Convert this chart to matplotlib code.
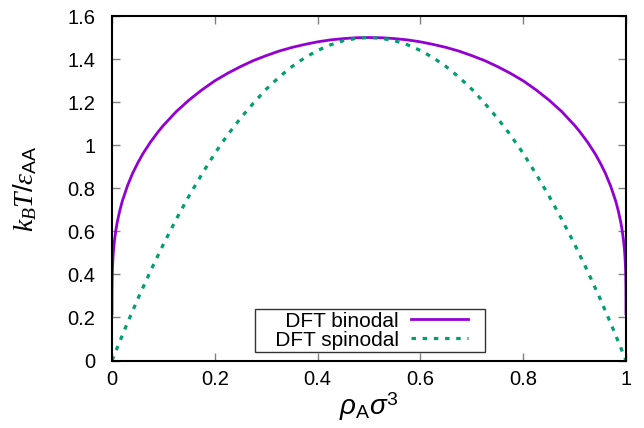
import numpy as np
import matplotlib
matplotlib.use("Agg")
import matplotlib.pyplot as plt
from matplotlib.ticker import FuncFormatter
from matplotlib.legend_handler import HandlerLine2D

# values
binodal_x = [0.000001, 0.00001, 0.0001, 0.0005, 0.001, 0.002, 0.003, 0.005, 0.0075, 0.01,
             0.015, 0.02, 0.03, 0.04, 0.05, 0.06, 0.075, 0.09, 0.1, 0.125,
             0.15, 0.175, 0.2, 0.225, 0.25, 0.275, 0.3, 0.325, 0.35, 0.375,
             0.4, 0.425, 0.45, 0.475, 0.5,
             0.525, 0.55, 0.575, 0.6, 0.625, 0.65, 0.675, 0.7, 0.725, 0.75,
             0.775, 0.8, 0.825, 0.85, 0.875, 0.9, 0.91, 0.925, 0.94, 0.95,
             0.96, 0.97, 0.98, 0.985, 0.99, 0.9925, 0.995, 0.997, 0.998, 0.999,
             0.9995, 0.9999, 0.99999, 0.999999]
binodal_t = [0.217, 0.261, 0.326, 0.394, 0.434, 0.481, 0.514, 0.561, 0.605, 0.640,
             0.695, 0.740, 0.811, 0.869, 0.917, 0.960, 1.015, 1.063, 1.092, 1.156,
             1.210, 1.257, 1.299, 1.334, 1.365, 1.393, 1.416, 1.437, 1.454, 1.468,
             1.480, 1.489, 1.495, 1.499, 1.500,
             1.499, 1.495, 1.489, 1.480, 1.468, 1.454, 1.437, 1.416, 1.393, 1.365,
             1.334, 1.299, 1.257, 1.210, 1.156, 1.092, 1.063, 1.015, 0.960, 0.917,
             0.869, 0.811, 0.740, 0.695, 0.640, 0.605, 0.561, 0.514, 0.481, 0.434,
             0.394, 0.326, 0.261, 0.217]

spinodal_x = [0.0, 0.025, 0.05, 0.075, 0.1, 0.125, 0.15, 0.175, 0.2, 0.225, 0.25, 0.275,
              0.3, 0.325, 0.35, 0.375, 0.4, 0.425, 0.45, 0.475, 0.5,
              0.525, 0.55, 0.575, 0.6, 0.625, 0.65, 0.675, 0.7, 0.725, 0.75,
              0.775, 0.8, 0.825, 0.85, 0.875, 0.9, 0.925, 0.95, 0.975, 1.0]
spinodal_t = [0.0, 0.146, 0.285, 0.416, 0.540, 0.656, 0.765, 0.866, 0.962, 1.048, 1.125, 1.195,
              1.260, 1.316, 1.365, 1.406, 1.440, 1.466, 1.485, 1.496, 1.500,
              1.496, 1.485, 1.466, 1.440, 1.406, 1.365, 1.316, 1.260, 1.195, 1.125,
              1.048, 0.962, 0.866, 0.765, 0.656, 0.540, 0.416, 0.285, 0.146, 0.0]


class ShortLine(HandlerLine2D):
    # gnuplot leaves a gap between the sample line and the key box
    def create_artists(self, legend, orig_handle, xdescent, ydescent, width, height,
                       fontsize, trans):
        return super().create_artists(legend, orig_handle, xdescent, ydescent,
                                      width * 0.8, height, fontsize, trans)


plt.rcParams["font.family"] = ["Liberation Sans", "DejaVu Sans"]
plt.rcParams["mathtext.fontset"] = "custom"
plt.rcParams["mathtext.rm"] = "Liberation Sans"
plt.rcParams["mathtext.it"] = "Liberation Serif:italic"
plt.rcParams["mathtext.sf"] = "Liberation Sans:italic"

fig = plt.figure(figsize=(6.44, 4.28), dpi=100)
ax = fig.add_axes([112 / 644, 1 - 360.5 / 428, (626 - 112) / 644, (360.5 - 16) / 428])

ax.plot(binodal_x, binodal_t, color="#9400d3", lw=2.0, label="   DFT binodal")
ax.plot(spinodal_x, spinodal_t, color="#009e73", lw=2.3, dashes=(1.4, 2.1),
        label="   DFT spinodal")

ax.set_xlim(0, 1)
ax.set_ylim(0, 1.6)
ax.set_xticks(np.arange(0, 1.01, 0.2))
ax.set_yticks(np.arange(0, 1.61, 0.2))
fmt = FuncFormatter(lambda v, p: "%g" % round(v, 2))
ax.xaxis.set_major_formatter(fmt)
ax.yaxis.set_major_formatter(fmt)
ax.tick_params(direction="in", top=True, right=True, length=6, width=1,
               color="#808080", labelsize=14.5, labelcolor="black")
ax.tick_params(axis="y", pad=12)
ax.tick_params(axis="x", pad=7)
for s in ax.spines.values():
    s.set_linewidth(1.5)

ax.set_xlabel(r"$\mathsf{\rho}_{\mathrm{A}}\mathsf{\sigma}^{3}$", fontsize=20, labelpad=1)
ax.set_ylabel(r"$k_B T/\varepsilon_{\mathrm{AA}}$", fontsize=20, labelpad=20)

leg = ax.legend(loc="lower center", bbox_to_anchor=(0.502, 0.0), markerfirst=False,
                fontsize=15, frameon=True, fancybox=False, borderpad=0.12,
                handlelength=3.4, labelspacing=0.0, borderaxespad=0.4,
                handletextpad=0.6, handler_map={plt.Line2D: ShortLine()})
leg.get_frame().set_edgecolor("black")
leg.get_frame().set_linewidth(1.0)
for t in leg.get_texts():
    t.set_ha("right")

fig.savefig("out.png", dpi=100)
